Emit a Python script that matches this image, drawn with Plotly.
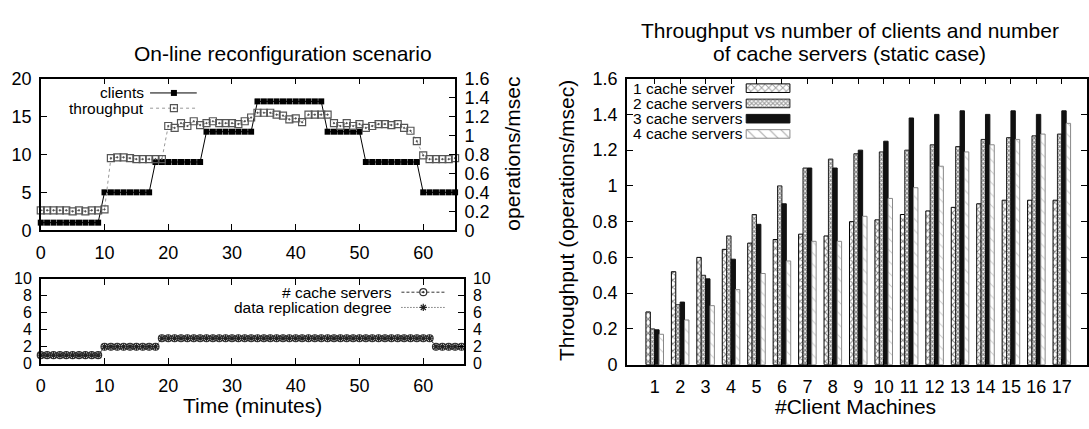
import plotly.graph_objects as go

W, H = 1089, 429

# ---------------- data ----------------
time_top = list(range(0, 66))
clients = [1, 1, 1, 1, 1, 1, 1, 1, 1, 1,
           5, 5, 5, 5, 5, 5, 5, 5,
           9, 9, 9, 9, 9, 9, 9, 9,
           13, 13, 13, 13, 13, 13, 13, 13,
           17, 17, 17, 17, 17, 17, 17, 17, 17, 17, 17,
           13, 13, 13, 13, 13, 13,
           9, 9, 9, 9, 9, 9, 9, 9, 9,
           5, 5, 5, 5, 5, 5]
throughput = [0.21, 0.21, 0.21, 0.21, 0.21, 0.20, 0.21, 0.20, 0.21, 0.21, 0.22,
              0.76, 0.77, 0.77, 0.76, 0.75, 0.75, 0.75, 0.75, 0.75,
              1.10, 1.08, 1.13, 1.10, 1.15, 1.11, 1.13, 1.15, 1.13, 1.13,
              1.13, 1.12, 1.15, 1.19, 1.24, 1.24, 1.24, 1.22, 1.21, 1.17,
              1.18, 1.14, 1.22, 1.22, 1.22, 1.22, 1.13, 1.10, 1.13, 1.10,
              1.12, 1.08, 1.10, 1.12, 1.12, 1.11, 1.12, 1.08, 1.05, 0.94,
              0.79, 0.75, 0.75, 0.75, 0.75, 0.76]

time_bottom = list(range(0, 67))
cache_servers = [1, 1, 1, 1, 1, 1, 1, 1, 1, 1,
                 2, 2, 2, 2, 2, 2, 2, 2, 2,
                 3, 3, 3, 3, 3, 3, 3, 3, 3, 3, 3, 3, 3, 3, 3, 3, 3, 3, 3, 3, 3,
                 3, 3, 3, 3, 3, 3, 3, 3, 3, 3, 3, 3, 3, 3, 3, 3, 3, 3, 3, 3, 3, 3,
                 2, 2, 2, 2, 2]
replication = [1, 1, 1, 1, 1, 1, 1, 1, 1, 1,
               2, 2, 2, 2, 2, 2, 2, 2, 2,
               3, 3, 3, 3, 3, 3, 3, 3, 3, 3, 3, 3, 3, 3, 3, 3, 3, 3, 3, 3, 3,
               3, 3, 3, 3, 3, 3, 3, 3, 3, 3, 3, 3, 3, 3, 3, 3, 3, 3, 3, 3, 3, 3,
               2, 2, 2, 2, 2]

client_machines = list(range(1, 18))
srv1 = [0.295, 0.52, 0.60, 0.645, 0.68, 0.70, 0.73, 0.72, 0.80, 0.81, 0.84, 0.86, 0.88, 0.90, 0.92, 0.92, 0.92]
srv2 = [0.20, 0.335, 0.50, 0.72, 0.84, 1.00, 1.10, 1.15, 1.18, 1.19, 1.20, 1.23, 1.22, 1.26, 1.27, 1.28, 1.29]
srv3 = [0.195, 0.35, 0.48, 0.59, 0.785, 0.90, 1.10, 1.10, 1.20, 1.25, 1.38, 1.40, 1.42, 1.40, 1.42, 1.40, 1.42]
srv4 = [0.17, 0.25, 0.33, 0.42, 0.51, 0.58, 0.69, 0.69, 0.83, 0.93, 0.99, 1.11, 1.19, 1.23, 1.26, 1.29, 1.35]
series_names = ["1 cache server", "2 cache servers", "3 cache servers", "4 cache servers"]

FONT = "Liberation Sans"
TICKF = dict(family=FONT, size=18, color="black")
TICKF_SMALL = dict(family=FONT, size=16, color="black")


def px(x):
    return x / W


def py(y):
    return 1 - y / H


fig = go.Figure()

# ---- top-left ----
fig.add_trace(go.Scatter(x=time_top, y=clients, mode="lines+markers", xaxis="x", yaxis="y",
                         line=dict(color="black", width=1),
                         marker=dict(symbol="square", size=6, color="black"),
                         cliponaxis=False, showlegend=False))
fig.add_trace(go.Scatter(x=time_top, y=throughput, mode="lines+markers", xaxis="x", yaxis="y2",
                         line=dict(color="#999999", width=1, dash="dot"),
                         marker=dict(symbol="square-open-dot", size=7, color="#555555",
                                     line=dict(width=1.2)),
                         cliponaxis=False, showlegend=False))

# ---- bottom-left ----
fig.add_trace(go.Scatter(x=time_bottom, y=cache_servers, mode="lines+markers", xaxis="x2", yaxis="y3",
                         line=dict(color="#333333", width=1, dash="3px,2px"),
                         marker=dict(symbol="circle-open-dot", size=7, color="#333333",
                                     line=dict(width=1.2)),
                         cliponaxis=False, showlegend=False))
fig.add_trace(go.Scatter(x=time_bottom, y=replication, mode="lines+markers", xaxis="x2", yaxis="y4",
                         line=dict(color="#333333", width=1, dash="1px,2px"),
                         marker=dict(symbol="asterisk-open", size=6, color="#222222",
                                     line=dict(width=1.2)),
                         cliponaxis=False, showlegend=False))

# ---- right bars ----
bar_styles = [
    dict(color="white", line=dict(color="black", width=1),
         pattern=dict(shape="x", fgcolor="black", bgcolor="white", size=5, solidity=0.35)),
    dict(color="white", line=dict(color="#222222", width=1),
         pattern=dict(shape="x", fgcolor="#111111", bgcolor="white", size=3, solidity=0.6)),
    dict(color="#111111", line=dict(color="#111111", width=1)),
    dict(color="white", line=dict(color="#888888", width=1),
         pattern=dict(shape="\\", fgcolor="#999999", bgcolor="white", size=8, solidity=0.12)),
]
for vals, st, nm in zip([srv1, srv2, srv3, srv4], bar_styles, series_names):
    fig.add_trace(go.Bar(x=client_machines, y=vals, name=nm, xaxis="x3", yaxis="y5",
                         marker=st, showlegend=False))

# ---- custom gnuplot-style legends on a pixel overlay ----
LEG = dict(xaxis="x4", yaxis="y6", cliponaxis=False, showlegend=False, hoverinfo="skip")
fig.add_trace(go.Scatter(x=[146, 193], y=[87, 87], mode="lines", line=dict(color="black", width=1), **LEG))
fig.add_trace(go.Scatter(x=[170], y=[87], mode="markers", marker=dict(symbol="square", size=6, color="black"), **LEG))
fig.add_trace(go.Scatter(x=[146, 193], y=[103, 103], mode="lines", line=dict(color="#999999", width=1, dash="dot"), **LEG))
fig.add_trace(go.Scatter(x=[170], y=[103], mode="markers",
                         marker=dict(symbol="square-open-dot", size=7, color="#555555", line=dict(width=1.2)), **LEG))
fig.add_trace(go.Scatter(x=[399, 443], y=[296, 296], mode="lines", line=dict(color="#333333", width=1, dash="3px,2px"), **LEG))
fig.add_trace(go.Scatter(x=[421], y=[296], mode="markers",
                         marker=dict(symbol="circle-open-dot", size=7, color="#333333", line=dict(width=1.2)), **LEG))
fig.add_trace(go.Scatter(x=[399, 443], y=[312, 312], mode="lines", line=dict(color="#333333", width=1, dash="1px,2px"), **LEG))
fig.add_trace(go.Scatter(x=[421], y=[312], mode="markers",
                         marker=dict(symbol="asterisk-open", size=6, color="#222222", line=dict(width=1.2)), **LEG))

leg_rows = [82, 98, 114, 130]
fig.add_trace(go.Bar(x=[44, 44, 44, 44], y=leg_rows, base=[746, 746, 746, 746], orientation="h",
                     width=[9, 9, 9, 9], xaxis="x4", yaxis="y6", showlegend=False, hoverinfo="skip",
                     marker=dict(color=["white", "white", "#111111", "white"],
                                 line=dict(color=["black", "#222222", "#111111", "#888888"], width=1),
                                 pattern=dict(shape=["x", "x", "", "\\"],
                                              fgcolor=["black", "#111111", "#111111", "#999999"],
                                              bgcolor=["white", "white", "#111111", "white"],
                                              size=[5, 3, 4, 8], solidity=[0.35, 0.6, 0.3, 0.12]))))

annotations = []


def txt(text, x, y, size=18, xanchor="center", angle=0):
    annotations.append(dict(text=text, x=x, y=y, xref="x4", yref="y6", showarrow=False,
                            xanchor=xanchor, yanchor="middle", textangle=angle, borderpad=0,
                            font=dict(family=FONT, size=size, color="black")))


txt("clients", 141, 87, 15.5, "right")
txt("throughput", 141, 103, 15.5, "right")
txt("# cache servers", 391, 296, 15.5, "right")
txt("data replication degree", 391, 312, 15.5, "right")
for r, nm in zip(leg_rows, series_names):
    txt(nm, 631, r, 15.5, "left")

txt("On-line reconfiguration scenario", 280, 46, 21)
txt("operations/msec", 511, 151, 21, angle=-90)
txt("Time (minutes)", 249, 415, 21)
txt("Throughput vs number of clients and number", 850, 21, 21)
txt("of cache servers (static case)", 850, 46, 21)
txt("Throughput (operations/msec)", 565, 221, 21, angle=-90)
txt("#Client Machines", 856, 416, 21)

BASE = dict(showline=True, linecolor="black", linewidth=1.5, ticks="inside", ticklen=6,
            tickcolor="black", tickwidth=1, showgrid=False, zeroline=False, fixedrange=True)
AX = dict(tickfont=TICKF, **BASE)
AXS = dict(tickfont=TICKF_SMALL, **BASE)
XS = dict(ticklabelstandoff=5)
YS = dict(ticklabelstandoff=4)

fig.update_layout(
    width=W, height=H, autosize=False,
    margin=dict(l=0, r=0, t=0, b=0),
    paper_bgcolor="white", plot_bgcolor="rgba(0,0,0,0)",
    barmode="group", bargap=0.31, bargroupgap=0,
    annotations=annotations,
    xaxis=dict(domain=[px(36), px(453)], range=[0, 65], anchor="y", tickvals=[0, 10, 20, 30, 40, 50, 60],
               mirror="ticks", **XS, **AX),
    yaxis=dict(domain=[py(231), py(72)], range=[0, 20], anchor="x", tickvals=[0, 5, 10, 15, 20], **YS, **AX),
    yaxis2=dict(overlaying="y", side="right", range=[0, 1.6], anchor="x",
                tickvals=[0, 0.2, 0.4, 0.6, 0.8, 1.0, 1.2, 1.4, 1.6],
                ticktext=["0", "0.2", "0.4", "0.6", "0.8", "1", "1.2", "1.4", "1.6"], **YS, **AX),
    xaxis2=dict(domain=[px(36), px(462)], range=[0, 66.4], anchor="y3", tickvals=[0, 10, 20, 30, 40, 50, 60],
                mirror="ticks", **XS, **AX),
    yaxis3=dict(domain=[py(371), py(282)], range=[0, 10], anchor="x2", tickvals=[0, 2, 4, 6, 8, 10],
                **YS, **AXS),
    yaxis4=dict(overlaying="y3", side="right", range=[0, 10], anchor="x2", tickvals=[0, 2, 4, 6, 8, 10],
                **YS, **AXS),
    xaxis3=dict(domain=[px(626), 1.0], range=[-0.09, 17.99], anchor="y5", tickvals=client_machines,
                mirror="ticks", **XS, **AX),
    yaxis5=dict(domain=[py(372), py(72)], range=[0, 1.6], anchor="x3",
                tickvals=[0, 0.2, 0.4, 0.6, 0.8, 1.0, 1.2, 1.4, 1.6],
                ticktext=["0", "0.2", "0.4", "0.6", "0.8", "1", "1.2", "1.4", "1.6"],
                mirror="ticks", **YS, **AX),
    xaxis4=dict(domain=[0, 1], range=[0, W], anchor="y6", visible=False, fixedrange=True),
    yaxis6=dict(domain=[0, 1], range=[H, 0], anchor="x4", visible=False, fixedrange=True),
)

fig.write_html("out.html")
